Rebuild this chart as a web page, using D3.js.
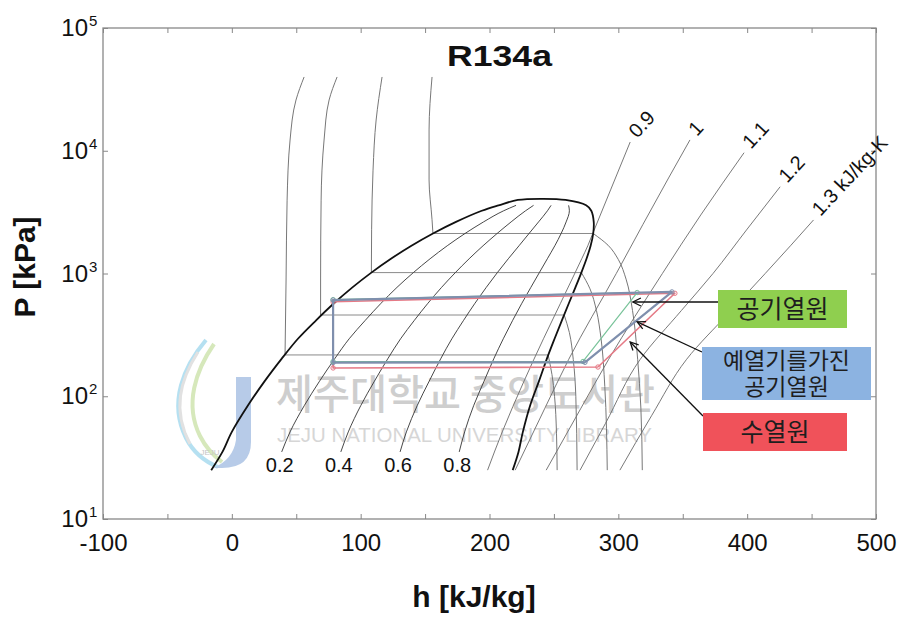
<!DOCTYPE html>
<html>
<head>
<meta charset="utf-8">
<script src="https://cdn.jsdelivr.net/npm/d3@7"></script>
<style>
  body { margin: 0; background: #fff; }
  svg { display: block; font-family: "Liberation Sans", Arial, sans-serif; }
</style>
</head>
<body>
<svg id="chart" width="907" height="618"></svg>
<script>
// R134a saturation dome (h in kJ/kg, P in kPa)
const satP  = [25, 35.2, 51.25, 84.4, 132.8, 201.7, 294, 415.6, 572, 771, 1017, 1318.6, 1682.8, 2117.8, 2633.3, 3244, 3591, 3974];
const satHf = [-16, -7.3, 0, 12.6, 25.5, 38.6, 51.3, 65.4, 79.3, 93.6, 108.3, 123.5, 139.4, 156.1, 174, 194, 207, 222];
const satHg = [218, 222.5, 225.9, 231.6, 238.4, 244.5, 250.5, 256.2, 261.6, 266.7, 271.3, 275.3, 278.5, 280.5, 280.9, 279, 275, 259];
const critical = [241.5, 4059];

// constant quality lines
const qualityP = [35.2, 51.25, 84.4, 132.8, 201.7, 294, 415.6, 572, 771, 1017, 1318.6, 1682.8, 2117.8, 2633.3, 3244, 3591];
const qualityNames = ["0.2", "0.4", "0.6", "0.8"];
const qualityH = [
  [38.7, 45.2, 56.4, 68.1, 79.8, 91.1, 103.6, 115.8, 128.2, 140.9, 153.9, 167.2, 181.0, 195.4, 211.0, 220.6],
  [84.6, 90.4, 100.2, 110.7, 121.0, 131.0, 141.7, 152.2, 162.8, 173.5, 184.2, 195.0, 205.9, 216.8, 228.0, 234.2],
  [130.6, 135.5, 144.0, 153.2, 162.1, 170.8, 179.9, 188.7, 197.5, 206.1, 214.6, 222.9, 230.7, 238.1, 245.0, 247.8],
  [176.5, 180.7, 187.8, 195.8, 203.3, 210.7, 218.0, 225.1, 232.1, 238.7, 244.9, 250.7, 255.6, 259.5, 262.0, 261.4]
];

// isotherms: liquid branch, then plateau, then vapour branch
const isoLiquid = [
  [[56.1, 39900], [49.8, 25900], [45.2, 12230], [42.9, 3960], [42.1, 885], [41.3, 217]],
  [[81.7, 39900], [75.5, 25900], [71.6, 12230], [69.3, 3960], [68.9, 885], [68.9, 459]],
  [[116.6, 39900], [112, 17800], [109.6, 6950], [108.5, 2270], [108.3, 1017]],
  [[155.4, 39900], [153.1, 14770], [153.1, 5780], [155.4, 2740], [156.1, 2118]]
];
const isoVapor = [
  [[245.5, 217], [248.5, 150], [250.5, 100], [252, 50], [252.5, 25]],
  [[258, 459], [262, 330], [265, 200], [267, 100], [268, 25]],
  [[271.3, 1017], [278, 750], [283, 500], [286.5, 300], [289.5, 120], [291.4, 25]],
  [[280.5, 2118], [292, 1700], [300, 1300], [306, 900], [311, 500], [315, 200], [317.5, 80], [318.6, 25]]
];

// isentropes
const entropyNames = ["0.9", "1", "1.1", "1.2", "1.3 kJ/kg-K"];
const isentropes = [
  [[198.5, 25], [209.9, 51.25], [226.8, 132.8], [241.9, 294], [255.1, 572], [266.5, 1017], [271.6, 1318.6], [276.3, 1682.8], [280, 2100], [294, 4800], [309.2, 11780]],
  [[219.9, 25], [243, 80], [261.5, 200], [298.4, 1000], [319, 2500], [339, 6000], [355.6, 12250]],
  [[244, 25], [271, 80], [292.5, 200], [334.2, 1000], [364, 3000], [397.6, 9640]],
  [[270.3, 25], [290, 60], [317, 200], [349, 500], [373.5, 1000], [400, 2300], [425.6, 5090]],
  [[301.2, 25], [326, 70], [353, 200], [386, 480], [414, 1000], [434, 1700], [451.5, 2730]]
];

// heat pump cycles
const cycleRed   = [[284.2, 173], [343.9, 690], [78.6, 588], [78.6, 170], [284.2, 173]];
const cycleGreen = [[272.6, 192], [314.6, 700], [78.6, 612], [78.6, 192], [272.6, 192]];
const cycleBlue  = [[274.1, 189], [341.6, 708], [78.6, 608], [78.6, 188], [274.1, 189]];

// annotation boxes
const sourceNames  = [["공기열원"], ["예열기를가진", "공기열원"], ["수열원"]];
const sourceColors = ["#8fcf4f", "#8cb3e1", "#f0525a"];
const arrowTips    = [[311.3, 586], [314.6, 403], [309.2, 277]];

// axes
const hTicks  = [-100, -50, 0, 50, 100, 150, 200, 250, 300, 350, 400, 450, 500];
const hLabels = [-100, 0, 100, 200, 300, 400, 500];
const pTicks  = [10, 100, 1000, 10000, 100000];
const pExp    = ["1", "2", "3", "4", "5"];

const L = 103, R = 876, T = 28, B = 519;
const svg = d3.select("#chart");
const x = d3.scaleLinear().domain([-100, 500]).range([L, R]);
const y = d3.scaleLog().domain([10, 1e5]).range([B, T]);

const defs = svg.append("defs");
defs.append("clipPath").attr("id", "plot").append("rect")
    .attr("x", L).attr("y", T).attr("width", R - L).attr("height", B - T);
defs.append("marker").attr("id", "arr")
    .attr("viewBox", "-10 -6 12 12").attr("refX", 0).attr("refY", 0)
    .attr("markerWidth", 12).attr("markerHeight", 12)
    .attr("markerUnits", "userSpaceOnUse").attr("orient", "auto")
  .append("path").attr("d", "M-8,-4L0,0L-8,4")
    .attr("fill", "none").attr("stroke", "#111").attr("stroke-width", 1.3);

// watermark (behind the lines)
const wm = svg.append("g").attr("opacity", 0.85);
wm.append("path").attr("d", "M206,340 C184,366 168,402 186,438 C194,454 206,462 218,467")
    .attr("fill", "none").attr("stroke", "#a9dbef").attr("stroke-width", 4);
wm.append("path").attr("d", "M214,344 C196,370 184,404 200,436 C206,448 214,456 222,462")
    .attr("fill", "none").attr("stroke", "#cfe5b0").attr("stroke-width", 4);
wm.append("path").attr("d", "M198,352 C180,380 172,410 190,444")
    .attr("fill", "none").attr("stroke", "#dcdcdc").attr("stroke-width", 3);
wm.append("path").attr("d", "M236,377 H251 V442 Q251,468 222,468 L213,468 Q233,460 236,440 Z")
    .attr("fill", "#abc3e4");
wm.append("text").attr("x", 210).attr("y", 455).attr("font-size", 8).attr("fill", "#bbb")
    .attr("text-anchor", "middle").text("JEJU");
wm.append("text").attr("x", 276).attr("y", 409)
    .attr("font-family", "'Noto Sans CJK KR', sans-serif").attr("font-size", 41).attr("font-weight", 500)
    .attr("fill", "#c6c6c6").attr("textLength", 379).attr("lengthAdjust", "spacingAndGlyphs")
    .text("제주대학교 중앙도서관");
wm.append("text").attr("x", 277).attr("y", 442).attr("font-size", 19.5)
    .attr("fill", "#d0d0d0").attr("textLength", 375).attr("lengthAdjust", "spacingAndGlyphs")
    .text("JEJU NATIONAL UNIVERSITY LIBRARY");

const g = svg.append("g").attr("clip-path", "url(#plot)");
const lineY = d3.line().x(d => x(d[0])).y(d => y(d[1])).curve(d3.curveMonotoneY);
const lineStraight = d3.line().x(d => x(d[0])).y(d => y(d[1]));

// isotherms
isoLiquid.forEach((liq, i) => {
  const vap = isoVapor[i];
  g.append("path").attr("d", lineY(liq)).attr("fill", "none").attr("stroke", "#777").attr("stroke-width", 1);
  g.append("path").attr("d", lineStraight([liq[liq.length - 1], vap[0]]))
      .attr("fill", "none").attr("stroke", "#8a8a8a").attr("stroke-width", 1);
  g.append("path").attr("d", lineY(vap)).attr("fill", "none").attr("stroke", "#777").attr("stroke-width", 1);
});

// isentropes
isentropes.forEach(pts => {
  g.append("path").attr("d", lineY(pts)).attr("fill", "none").attr("stroke", "#6a6a6a").attr("stroke-width", 0.9);
});

// quality lines
qualityH.forEach(hs => {
  g.append("path").attr("d", lineY(hs.map((h, i) => [h, qualityP[i]])))
      .attr("fill", "none").attr("stroke", "#333").attr("stroke-width", 0.9);
});

// saturation dome
const dome = satP.map((p, i) => [satHf[i], p]).concat([critical])
    .concat(satP.map((p, i) => [satHg[i], p]).reverse());
g.append("path").attr("d", d3.line().x(d => x(d[0])).y(d => y(d[1])).curve(d3.curveCatmullRom.alpha(0.5))(dome))
    .attr("fill", "none").attr("stroke", "#111").attr("stroke-width", 1.8);

// cycles
[[cycleRed, "#e57a86", 1.6], [cycleGreen, "#79c39a", 1.2], [cycleBlue, "#7f8fad", 2.2]].forEach(([pts, col, w]) => {
  g.append("path").attr("d", lineStraight(pts)).attr("fill", "none")
      .attr("stroke", col).attr("stroke-width", w).attr("stroke-linejoin", "round");
  g.selectAll(null).data(pts.slice(0, 4)).enter().append("circle")
      .attr("cx", d => x(d[0])).attr("cy", d => y(d[1])).attr("r", 2.2)
      .attr("fill", "none").attr("stroke", col).attr("stroke-width", 1);
});

// frame and ticks
const tickStyle = sel => {
  sel.select(".domain").remove();
  sel.selectAll("line").attr("stroke", "#888");
};
svg.append("g").attr("transform", `translate(0,${B})`)
    .call(d3.axisBottom(x).tickValues(hTicks).tickSize(-5).tickFormat(d => hLabels.includes(d) ? d : ""))
    .call(tickStyle)
    .call(s => s.selectAll("text").attr("y", 32).attr("dy", null)
        .attr("font-size", 24).attr("fill", "#111").attr("font-family", "'Liberation Sans', Arial, sans-serif"));
svg.append("g").attr("transform", `translate(0,${T})`)
    .call(d3.axisTop(x).tickValues(hTicks).tickSize(-5).tickFormat(""))
    .call(tickStyle);
svg.append("g").attr("transform", `translate(${L},0)`)
    .call(d3.axisLeft(y).tickValues(pTicks).tickSize(-5).tickFormat(""))
    .call(tickStyle);
svg.append("g").attr("transform", `translate(${R},0)`)
    .call(d3.axisRight(y).tickValues(pTicks).tickSize(-5).tickFormat(""))
    .call(tickStyle);
svg.append("rect").attr("x", L).attr("y", T).attr("width", R - L).attr("height", B - T)
    .attr("fill", "none").attr("stroke", "#888").attr("stroke-width", 1.3);

pTicks.forEach((p, i) => {
  svg.append("text").attr("x", 88).attr("y", y(p) + 8).attr("text-anchor", "end")
      .attr("font-size", 24).attr("fill", "#111").text("10");
  svg.append("text").attr("x", 89).attr("y", y(p) - 2).attr("font-size", 15)
      .attr("fill", "#111").text(pExp[i]);
});

// line labels
qualityH.forEach((hs, i) => {
  svg.append("text").attr("x", x(hs[0]) - 2).attr("y", y(qualityP[0]) + 20)
      .attr("text-anchor", "middle").attr("font-size", 20).attr("fill", "#111").text(qualityNames[i]);
});
isentropes.forEach((pts, i) => {
  const e = pts[pts.length - 1];
  const ex = x(e[0]) + 7, ey = y(e[1]) - 3;
  svg.append("text").attr("transform", `translate(${ex},${ey}) rotate(-47)`)
      .attr("font-size", 20).attr("fill", "#111").text(entropyNames[i]);
});

// titles
svg.append("text").attr("x", 447).attr("y", 66).attr("font-size", 30).attr("font-weight", "bold")
    .attr("textLength", 105).attr("lengthAdjust", "spacingAndGlyphs").attr("fill", "#111").text("R134a");
svg.append("text").attr("x", 474).attr("y", 607).attr("text-anchor", "middle")
    .attr("font-size", 30).attr("font-weight", "bold").attr("fill", "#111").text("h [kJ/kg]");
svg.append("text").attr("transform", "translate(35,267) rotate(-90)").attr("text-anchor", "middle")
    .attr("font-size", 30).attr("font-weight", "bold").attr("fill", "#111").text("P [kPa]");

// annotation boxes with arrows
const boxes = [
  { x: 718, y: 290, w: 129, h: 38, from: [718, 302] },
  { x: 702, y: 347, w: 169, h: 53, from: [702, 352] },
  { x: 703, y: 413, w: 144, h: 38, from: [703, 416] }
];
boxes.forEach((b, i) => {
  svg.append("line").attr("x1", b.from[0]).attr("y1", b.from[1])
      .attr("x2", x(arrowTips[i][0])).attr("y2", y(arrowTips[i][1]))
      .attr("stroke", "#111").attr("stroke-width", 1.3).attr("marker-end", "url(#arr)");
  svg.append("rect").attr("x", b.x).attr("y", b.y).attr("width", b.w).attr("height", b.h)
      .attr("fill", sourceColors[i]);
  const lines = sourceNames[i];
  const txt = svg.append("text").attr("text-anchor", "middle")
      .attr("font-family", "'Noto Sans CJK KR', sans-serif")
      .attr("font-size", lines.length > 1 ? 23 : 25).attr("fill", "#1e1e1e");
  lines.forEach((t, k) => {
    txt.append("tspan").attr("x", b.x + b.w / 2)
        .attr("y", b.y + b.h / 2 + (k - (lines.length - 1) / 2) * 26 + 8.5)
        .text(t);
  });
});
</script>
</body>
</html>
